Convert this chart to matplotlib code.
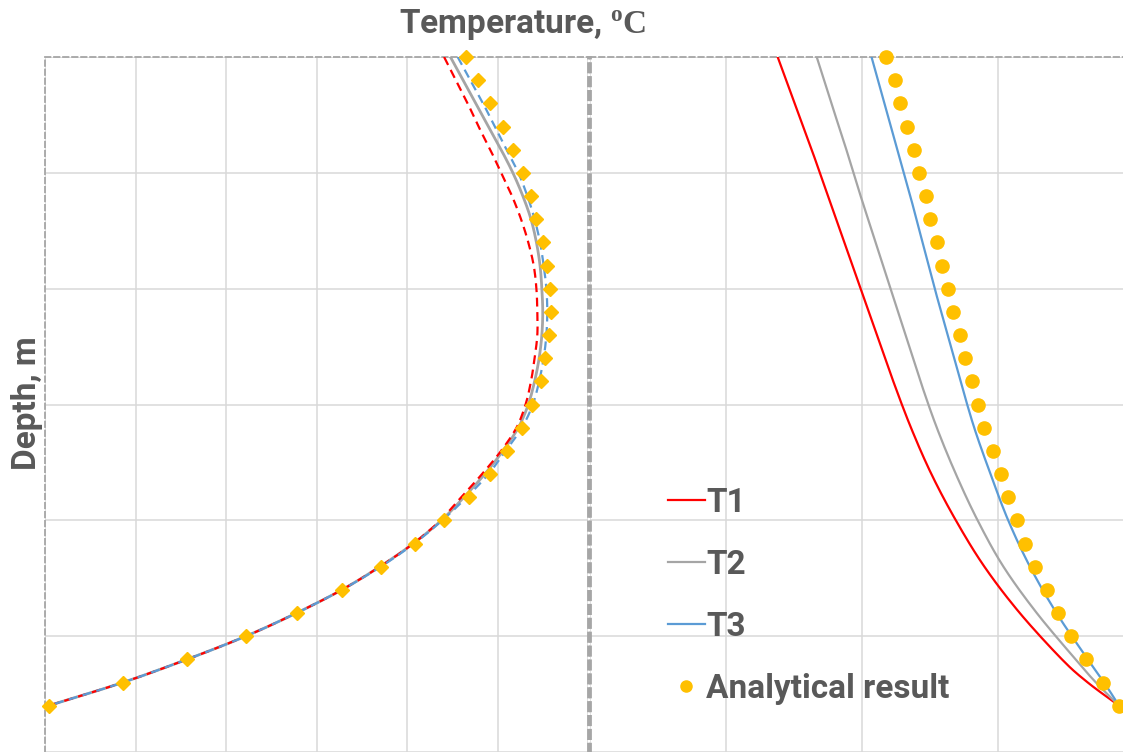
import numpy as np
import matplotlib
matplotlib.use("Agg")
import matplotlib.pyplot as plt
from matplotlib.lines import Line2D

# -------------------------
# data
# -------------------------
depth = np.arange(0, 29)

# left panel
left_t1 = [4.41, 4.54, 4.67, 4.79, 4.92, 5.04, 5.16, 5.26, 5.34, 5.40, 5.43, 5.44, 5.44, 5.41,
           5.37, 5.31, 5.21, 5.04, 4.83, 4.60, 4.37, 4.07, 3.70, 3.28, 2.78, 2.22, 1.57, 0.86, 0.04]
left_t2 = [4.48, 4.62, 4.76, 4.90, 5.04, 5.17, 5.28, 5.37, 5.43, 5.47, 5.49, 5.50, 5.49, 5.46,
           5.41, 5.34, 5.23, 5.06, 4.86, 4.63, 4.38, 4.07, 3.70, 3.28, 2.78, 2.22, 1.57, 0.86, 0.04]
left_t3 = [4.56, 4.70, 4.84, 4.97, 5.10, 5.23, 5.33, 5.41, 5.47, 5.51, 5.54, 5.55, 5.54, 5.51,
           5.46, 5.39, 5.27, 5.09, 4.90, 4.66, 4.39, 4.08, 3.71, 3.28, 2.78, 2.22, 1.57, 0.86, 0.04]
left_exact = [4.65, 4.78, 4.92, 5.06, 5.17, 5.28, 5.37, 5.43, 5.50, 5.55, 5.58, 5.59, 5.57, 5.53,
              5.48, 5.38, 5.27, 5.10, 4.92, 4.68, 4.41, 4.09, 3.71, 3.28, 2.78, 2.22, 1.57, 0.86, 0.04]

# right panel
line_depth = [0, 2, 4, 6, 8, 10, 12, 14, 16, 18, 20, 22, 24, 26, 27, 28]
right_t1 = [1.38, 1.505, 1.63, 1.75, 1.87, 1.99, 2.11, 2.23, 2.36, 2.51, 2.69, 2.90, 3.16, 3.47, 3.66, 3.89]
right_t2 = [1.667, 1.775, 1.885, 1.99, 2.10, 2.21, 2.32, 2.43, 2.55, 2.69, 2.85, 3.04, 3.285, 3.57, 3.72, 3.89]
right_t3 = [2.07, 2.165, 2.26, 2.355, 2.445, 2.535, 2.63, 2.725, 2.825, 2.945, 3.075, 3.235, 3.43, 3.66, 3.78, 3.89]
right_exact = [2.18, 2.24, 2.28, 2.33, 2.38, 2.42, 2.47, 2.50, 2.55, 2.59, 2.63, 2.67, 2.72, 2.76,
               2.81, 2.85, 2.90, 2.96, 3.02, 3.07, 3.14, 3.20, 3.27, 3.36, 3.44, 3.54, 3.65, 3.77, 3.89]

labels = ["T1", "T2", "T3", "Analytical result"]

RED = "#FF0000"
GRAY = "#A5A5A5"
BLUE = "#5B9BD5"
GOLD = "#FFC000"
TXT = "#595959"

plt.rcParams["font.family"] = ["Roboto", "DejaVu Sans"]
plt.rcParams["mathtext.fontset"] = "custom"
plt.rcParams["mathtext.rm"] = "Liberation Serif"
plt.rcParams["mathtext.bf"] = "Liberation Serif:bold"


def smooth(x, y, n=12):
    # Catmull-Rom curve through the points, like a "smoothed line" in a spreadsheet chart
    p = np.column_stack([x, y]).astype(float)
    p = np.vstack([2 * p[0] - p[1], p, 2 * p[-1] - p[-2]])
    out = []
    t = np.linspace(0, 1, n, endpoint=False)[:, None]
    for i in range(1, len(p) - 2):
        p0, p1, p2, p3 = p[i - 1], p[i], p[i + 1], p[i + 2]
        seg = 0.5 * (2 * p1 + (-p0 + p2) * t + (2 * p0 - 5 * p1 + 4 * p2 - p3) * t ** 2
                     + (-p0 + 3 * p1 - 3 * p2 + p3) * t ** 3)
        out.append(seg)
    out.append(p[-2][None, :])
    out = np.vstack(out)
    return out[:, 0], out[:, 1]


W, H = 1123, 752
fig = plt.figure(figsize=(W / 100, H / 100), dpi=100)

ax1 = fig.add_axes([45 / W, 0, 543 / W, 695 / H])
ax2 = fig.add_axes([590 / W, 0, 544 / W, 695 / H])


def style(ax, nx):
    ax.set_xlim(0, nx)
    ax.set_ylim(30, 0)
    ax.set_xticks(np.arange(0, nx + 1))
    ax.set_yticks(np.arange(0, 31, 5))
    ax.tick_params(length=0, labelbottom=False, labelleft=False)
    ax.grid(True, color="#D9D9D9", lw=1.1)
    ax.set_axisbelow(True)
    for s in ax.spines.values():
        s.set_color("#A6A6A6")
        s.set_linestyle((0, (3, 2)))
        s.set_linewidth(1.3)
    ax.spines["bottom"].set_visible(False)


style(ax1, 6)
style(ax2, 4)
ax2.spines["right"].set_visible(False)
ax1.spines["right"].set_linewidth(2)
ax2.spines["left"].set_linewidth(2)

# left panel
ax1.plot(*smooth(left_t2, depth), color=GRAY, lw=2, zorder=3)
ax1.plot(*smooth(left_t1, depth), color=RED, lw=1.6, ls=(0, (4, 2.5)), zorder=4)
ax1.plot(*smooth(left_t3, depth), color=BLUE, lw=1.6, ls=(0, (4, 2.5)), zorder=4)
ax1.plot(left_exact, depth, ls="none", marker="D", ms=7, color=GOLD, zorder=5, clip_on=False)

# right panel
ax2.plot(*smooth(right_t1, line_depth), color=RED, lw=1.6, zorder=3)
ax2.plot(*smooth(right_t2, line_depth), color=GRAY, lw=1.6, zorder=3)
ax2.plot(*smooth(right_t3, line_depth), color=BLUE, lw=1.6, zorder=3)
ax2.plot(right_exact, depth, ls="none", marker="o", ms=9.5, color=GOLD, zorder=5, clip_on=False)

handles = [
    Line2D([], [], color=RED, lw=1.6),
    Line2D([], [], color=GRAY, lw=1.6),
    Line2D([], [], color=BLUE, lw=1.6),
    Line2D([], [], ls="none", marker="o", ms=8, color=GOLD),
]
leg = fig.legend(handles, labels, loc="upper left", bbox_to_anchor=(638 / W, 1 - 457 / H),
                 frameon=False, handlelength=1.1, handletextpad=0.05,
                 labelspacing=0.9, prop={"weight": "bold", "size": 24})
for t in leg.get_texts():
    t.set_color(TXT)

fig.text(523 / W, 1 - 25 / H, r"Temperature, $\mathbf{^{o}C}$", ha="center", va="center",
         fontsize=24, fontweight="bold", color=TXT)
fig.text(27 / W, 1 - 403 / H, "Depth, m", rotation=90, ha="center", va="center",
         fontsize=24, fontweight="bold", color=TXT)

fig.savefig("out.png", dpi=100)
